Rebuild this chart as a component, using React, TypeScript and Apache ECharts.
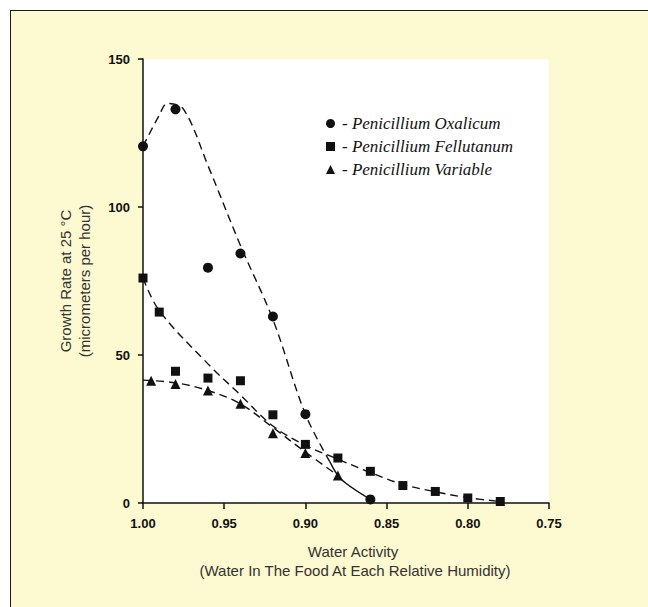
import React, { useEffect, useRef } from "react";
import * as echarts from "echarts";

// Measured data points (water activity, growth rate)
const oxalicumX = [1.0, 0.98, 0.96, 0.94, 0.92, 0.9, 0.86];
const oxalicumY = [120.5, 133, 79.5, 84.3, 63, 30, 1.2];

const fellutanumX = [1.0, 0.99, 0.98, 0.96, 0.94, 0.92, 0.9, 0.88, 0.86, 0.84, 0.82, 0.8, 0.78];
const fellutanumY = [76, 64.5, 44.5, 42.2, 41.3, 29.8, 19.8, 15.2, 10.7, 5.9, 3.9, 1.7, 0.5];

const variableX = [0.995, 0.98, 0.96, 0.94, 0.92, 0.9, 0.88];
const variableY = [41.3, 40.2, 38.0, 33.5, 23.6, 16.9, 9.3];

// Fitted (dashed) curves
const oxFitX = [1.0, 0.99, 0.985, 0.975, 0.96, 0.94, 0.92, 0.9, 0.885];
const oxFitY = [120.5, 131, 135, 133, 114, 87, 62, 30, 14];

const felFitX = [1.0, 0.99, 0.96, 0.94, 0.92, 0.9, 0.88, 0.86, 0.84, 0.82, 0.8, 0.78];
const felFitY = [76, 65, 47, 36.5, 26, 19.5, 14.8, 10.3, 6.3, 3.8, 1.8, 0.5];

const varFitX = [1.0, 0.98, 0.96, 0.94, 0.92, 0.9, 0.88];
const varFitY = [41.5, 40.6, 38, 33.5, 25.5, 17.2, 9.3];

// solid tail joining both curves to the last point
const tailX = [0.885, 0.878, 0.86];
const tailY = [14, 8, 1.2];

const seriesNames = ["Penicillium Oxalicum", "Penicillium Fellutanum", "Penicillium Variable"];
const yTicks = { min: 0, max: 150, interval: 50 };
const xTicks = { min: 0.75, max: 1.0, interval: 0.05 };

const xTitle = ["Water Activity", "(Water In The Food At Each Relative Humidity)"];
const yTitle = ["Growth Rate at 25 °C", "(micrometers per hour)"];

const pairs = (xs: number[], ys: number[]) => xs.map((x, i) => [x, ys[i]]);

export default function App() {
  const ref = useRef<HTMLDivElement>(null);
  useEffect(() => {
    if (!ref.current) return;
    const chart = echarts.init(ref.current, null, { renderer: "svg" });
    const ink = "#111";
    const dashLine = (name: string, xs: number[], ys: number[]) => ({
      name,
      type: "line",
      data: pairs(xs, ys),
      smooth: 0.35,
      showSymbol: false,
      symbol: "none",
      silent: true,
      lineStyle: { color: ink, width: 1.4, type: [8, 5] },
      z: 2,
    });
    const axisLabelFont = {
      fontFamily: "'Liberation Sans', Arial, sans-serif",
      fontWeight: "bold" as const,
      fontSize: 13,
      color: ink,
    };
    const nameFont = "15px 'Liberation Sans', Arial, sans-serif";
    chart.setOption({
      animation: false,
      backgroundColor: "transparent",
      grid: {
        left: 143,
        right: 99,
        top: 59,
        bottom: 104,
        show: true,
        backgroundColor: "#ffffff",
        borderWidth: 0,
      },
      xAxis: {
        type: "value",
        inverse: true,
        min: xTicks.min,
        max: xTicks.max,
        interval: xTicks.interval,
        splitLine: { show: false },
        axisLine: { show: true, onZero: false, lineStyle: { color: ink, width: 1.5 } },
        axisTick: { show: true, length: 6, lineStyle: { color: ink, width: 1.5 } },
        axisLabel: { ...axisLabelFont, margin: 14, formatter: (v: number) => v.toFixed(2) },
      },
      yAxis: {
        type: "value",
        min: yTicks.min,
        max: yTicks.max,
        interval: yTicks.interval,
        splitLine: { show: false },
        axisLine: { show: true, lineStyle: { color: ink, width: 1.5 } },
        axisTick: { show: true, length: 5, lineStyle: { color: ink, width: 1.5 } },
        axisLabel: { ...axisLabelFont, margin: 13 },
      },
      legend: {
        data: seriesNames,
        orient: "vertical",
        left: 321,
        top: 110,
        itemWidth: 9,
        itemHeight: 9,
        itemGap: 6,
        itemStyle: { color: ink, opacity: 1 },
        textStyle: {
          fontFamily: "'Liberation Serif', 'DejaVu Serif', serif",
          fontStyle: "italic",
          fontSize: 17,
          lineHeight: 17,
          color: ink,
          padding: [0, 0, 0, 2],
        },
        formatter: (name: string) => "- " + name,
        selectedMode: false,
      },
      graphic: [
        {
          type: "text",
          x: 353,
          y: 551,
          style: { text: xTitle[0], font: nameFont, fill: "#333", align: "center", verticalAlign: "middle" },
        },
        {
          type: "text",
          x: 355,
          y: 570,
          style: { text: xTitle[1], font: nameFont, fill: "#333", align: "center", verticalAlign: "middle" },
        },
        {
          type: "text",
          x: 65,
          y: 281,
          rotation: Math.PI / 2,
          style: { text: yTitle[0], font: nameFont, fill: "#333", align: "center", verticalAlign: "middle" },
        },
        {
          type: "text",
          x: 84,
          y: 281,
          rotation: Math.PI / 2,
          style: { text: yTitle[1], font: nameFont, fill: "#333", align: "center", verticalAlign: "middle" },
        },
      ],
      series: [
        dashLine("fit-ox", oxFitX, oxFitY),
        dashLine("fit-fel", felFitX, felFitY),
        dashLine("fit-var", varFitX, varFitY),
        {
          name: "tail",
          type: "line",
          data: pairs(tailX, tailY),
          smooth: 0.3,
          showSymbol: false,
          symbol: "none",
          silent: true,
          lineStyle: { color: ink, width: 1.4 },
          z: 2,
        },
        {
          name: seriesNames[0],
          type: "scatter",
          symbol: "circle",
          symbolSize: 10,
          itemStyle: { color: ink, opacity: 1 },
          data: pairs(oxalicumX, oxalicumY),
          z: 3,
        },
        {
          name: seriesNames[1],
          type: "scatter",
          symbol: "rect",
          symbolSize: 9,
          itemStyle: { color: ink, opacity: 1 },
          data: pairs(fellutanumX, fellutanumY),
          z: 3,
        },
        {
          name: seriesNames[2],
          type: "scatter",
          symbol: "triangle",
          symbolSize: 10,
          itemStyle: { color: ink, opacity: 1 },
          data: pairs(variableX, variableY),
          z: 3,
        },
      ],
    });
    return () => chart.dispose();
  }, []);

  return (
    <div style={{ position: "absolute", left: 0, top: 0, width: 648, height: 607, background: "#ffffff", overflow: "hidden" }}>
      <div
        style={{
          position: "absolute",
          left: 10,
          top: 10,
          width: 660,
          height: 620,
          background: "#fdf9d0",
          borderTop: "1.5px solid #1a1a1a",
          borderLeft: "1.5px solid #1a1a1a",
        }}
      />
      <div ref={ref} style={{ position: "absolute", left: 0, top: 0, width: 648, height: 607 }} />
    </div>
  );
}
